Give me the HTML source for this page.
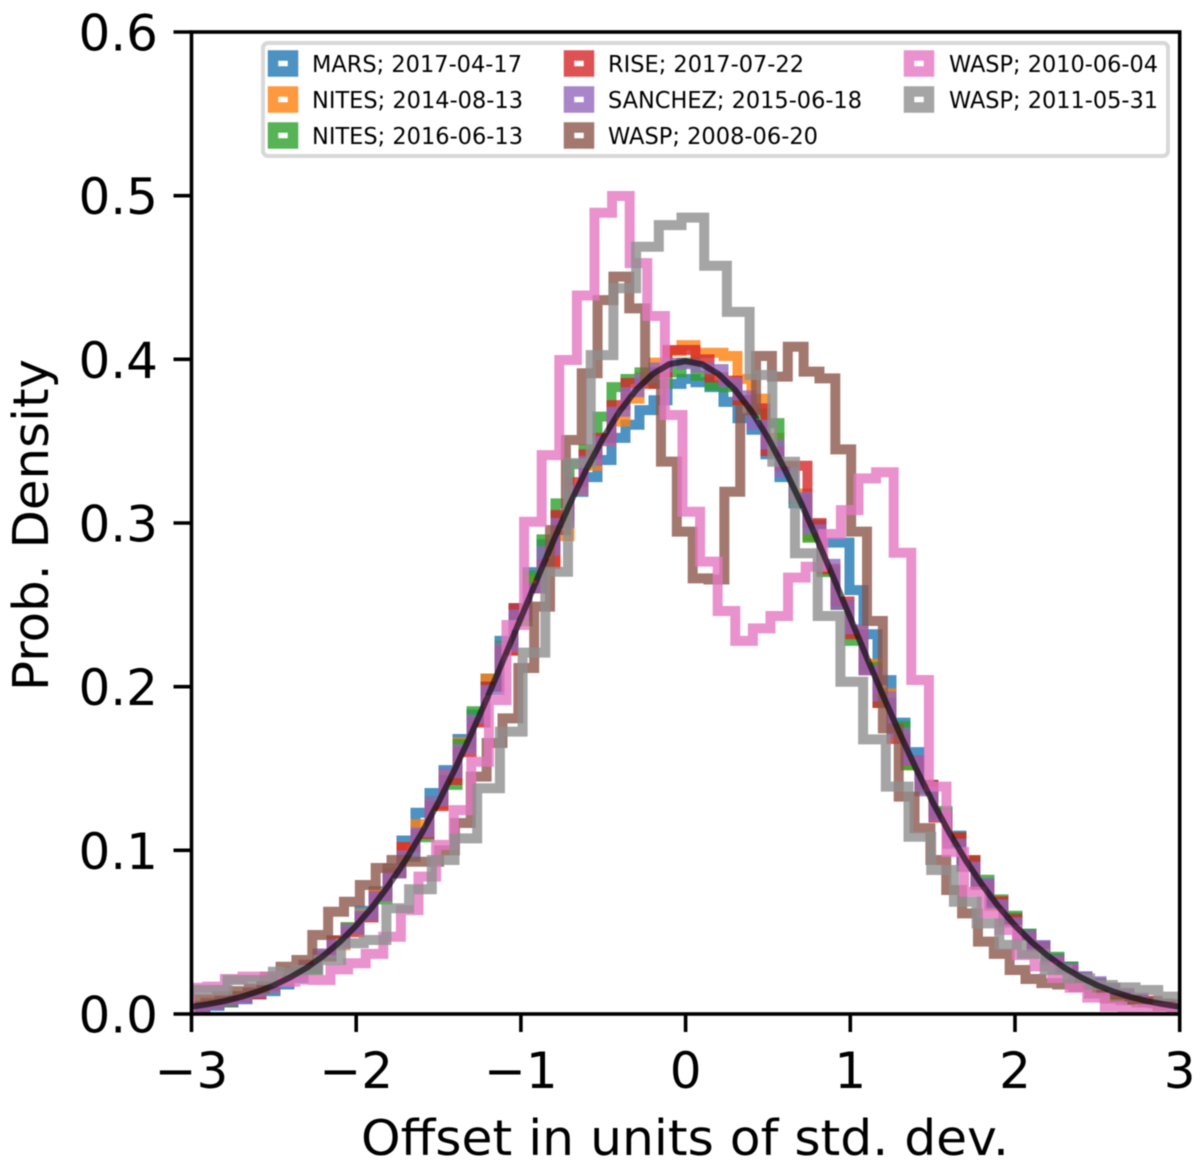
<!DOCTYPE html>
<html lang="en">
<head>
<meta charset="utf-8">
<title>Offset distribution histogram</title>
<style>
  html, body { margin: 0; padding: 0; background: #fff; }
  svg { display: block; font-family: "DejaVu Sans", "Liberation Sans", sans-serif; filter: blur(0.55px); }
</style>
</head>
<body>
<svg id="chart" xmlns="http://www.w3.org/2000/svg" width="1200" height="1169" viewBox="0 0 1200 1169">
  <defs>
    <clipPath id="plot-clip"><rect x="191.5" y="32" width="988.2" height="982"></rect></clipPath>
  </defs>
  <rect x="0" y="0" width="1200" height="1169" fill="#ffffff"></rect>
  <g id="marks" clip-path="url(#plot-clip)"></g>
  <g id="axes"></g>
  <text x="685" y="1155" font-size="49" text-anchor="middle" textLength="648" lengthAdjust="spacingAndGlyphs" fill="#000">Offset in units of std. dev.</text>
  <text transform="translate(48,525) rotate(-90)" font-size="49" text-anchor="middle" textLength="332" lengthAdjust="spacingAndGlyphs" fill="#000">Prob. Density</text>

  <g>
    <rect x="263" y="43" width="905" height="113" rx="5" ry="5" fill="#ffffff" fill-opacity="0.8" stroke="#d8d8d8" stroke-width="4"></rect>
    <g font-size="23" fill="#000">
      <g>
        <rect x="273" y="55.5" width="20" height="16" fill="none" stroke="#1f77b4" stroke-opacity="0.8" stroke-width="10.5"></rect>
        <text x="312" y="72" textLength="210" lengthAdjust="spacingAndGlyphs">MARS; 2017-04-17</text>
      </g>
      <g>
        <rect x="273" y="91.5" width="20" height="16" fill="none" stroke="#ff7f0e" stroke-opacity="0.8" stroke-width="10.5"></rect>
        <text x="312" y="108" textLength="211" lengthAdjust="spacingAndGlyphs">NITES; 2014-08-13</text>
      </g>
      <g>
        <rect x="273" y="127.5" width="20" height="16" fill="none" stroke="#2ca02c" stroke-opacity="0.8" stroke-width="10.5"></rect>
        <text x="312" y="144" textLength="211" lengthAdjust="spacingAndGlyphs">NITES; 2016-06-13</text>
      </g>
      <g>
        <rect x="569" y="55.5" width="20" height="16" fill="none" stroke="#d62728" stroke-opacity="0.8" stroke-width="10.5"></rect>
        <text x="608" y="72" textLength="196" lengthAdjust="spacingAndGlyphs">RISE; 2017-07-22</text>
      </g>
      <g>
        <rect x="569" y="91.5" width="20" height="16" fill="none" stroke="#9467bd" stroke-opacity="0.8" stroke-width="10.5"></rect>
        <text x="608" y="108" textLength="254" lengthAdjust="spacingAndGlyphs">SANCHEZ; 2015-06-18</text>
      </g>
      <g>
        <rect x="569" y="127.5" width="20" height="16" fill="none" stroke="#8c564b" stroke-opacity="0.8" stroke-width="10.5"></rect>
        <text x="608" y="144" textLength="210" lengthAdjust="spacingAndGlyphs">WASP; 2008-06-20</text>
      </g>
      <g>
        <rect x="909" y="55.5" width="20" height="16" fill="none" stroke="#e377c2" stroke-opacity="0.8" stroke-width="10.5"></rect>
        <text x="949" y="72" textLength="209" lengthAdjust="spacingAndGlyphs">WASP; 2010-06-04</text>
      </g>
      <g>
        <rect x="909" y="91.5" width="20" height="16" fill="none" stroke="#8f8f8f" stroke-opacity="0.8" stroke-width="10.5"></rect>
        <text x="949" y="108" textLength="209" lengthAdjust="spacingAndGlyphs">WASP; 2011-05-31</text>
      </g>
    </g>
  </g>
</svg>

<script>
// Chart data: histogram densities per bin.
const xTickValues = [-3, -2, -1, 0, 1, 2, 3];
const xTickLabels = ['\u22123', '\u22122', '\u22121', '0', '1', '2', '3'];
const yTickValues = [0, 0.1, 0.2, 0.3, 0.4, 0.5, 0.6];
const yTickLabels = ['0.0', '0.1', '0.2', '0.3', '0.4', '0.5', '0.6'];

const marsValues = [.004,.005,.007,.009,.012,.014,.018,.022,.028,.036,.044,.052,.063,.075,.089,.106,.123,.135,.149,.168,.183,.205,.228,.248,.27,.287,.304,.319,.328,.3385,.352,.36,.369,.375,.385,.388,.386,.383,.374,.364,.357,.342,.328,.312,.299,.288,.288,.259,.232,.204,.178,.16,.14,.123,.109,.093,.08,.068,.059,.049,.042,.034,.029,.023,.019,.015,.012,.0095,.0075,.006,.0045];
const nites2014Values = [.005,.007,.008,.011,.013,.016,.021,.024,.03,.037,.042,.053,.061,.074,.088,.102,.116,.128,.146,.166,.179,.205,.222,.243,.265,.276,.292,.32,.335,.35,.362,.376,.389,.398,.405,.4087,.404,.404,.402,.388,.376,.352,.335,.318,.292,.271,.25,.234,.214,.196,.172,.152,.137,.122,.104,.09,.079,.066,.056,.048,.041,.033,.027,.022,.018,.015,.012,.009,.007,.006,.005];
const nites2016Values = [.005,.006,.007,.011,.013,.017,.021,.026,.027,.036,.045,.053,.06,.07,.086,.096,.108,.13,.14,.165,.185,.2,.225,.24,.268,.29,.312,.336,.345,.365,.383,.388,.392,.385,.392,.398,.39,.384,.383,.375,.367,.361,.334,.315,.291,.27,.25,.228,.212,.19,.176,.152,.138,.124,.108,.094,.082,.07,.06,.049,.041,.035,.029,.022,.019,.016,.012,.009,.007,.005,.004];
const riseValues = [.004,.006,.008,.01,.012,.017,.02,.026,.03,.035,.045,.05,.059,.072,.086,.102,.11,.127,.143,.16,.178,.2,.222,.248,.26,.275,.305,.325,.342,.352,.372,.3855,.385,.392,.4057,.4057,.4,.389,.387,.375,.37,.344,.335,.335,.3,.272,.252,.232,.21,.19,.168,.155,.14,.12,.108,.094,.079,.069,.058,.048,.041,.033,.027,.022,.018,.014,.012,.009,.008,.005,.004];
const sanchezValues = [.004,.006,.008,.0095,.013,.016,.021,.024,.03,.037,.043,.052,.06,.072,.086,.097,.111,.13,.147,.162,.18,.198,.224,.244,.26,.283,.3,.32,.338,.35,.368,.38,.388,.395,.398,.397,.395,.394,.386,.378,.36,.348,.331,.316,.296,.275,.25,.235,.21,.194,.172,.155,.136,.121,.104,.09,.08,.067,.056,.048,.042,.033,.028,.023,.02,.016,.013,.01,.007,.006,.004];
const wasp2008Values = [.009,.009,.011,.014,.0155,.0228,.0289,.033,.0483,.0625,.0686,.0788,.0892,.0941,.093,.093,.1,.1167,.145,.1656,.1806,.2114,.2489,.2957,.3507,.3915,.4362,.4505,.4311,.3874,.3375,.2947,.2662,.2655,.3191,.369,.402,.3894,.4077,.3925,.3884,.345,.2947,.2401,.1745,.1328,.1136,.0941,.0758,.0615,.0442,.0367,.0269,.0214,.0189,.018,.0165,.0125,.0095,.0085,.007,.0065,.006];
const wasp2010Values = [.016,.0167,.0214,.0228,.0228,.0197,.021,.0208,.0273,.031,.0367,.0472,.0635,.0839,.1033,.1246,.1541,.1918,.2377,.3008,.3415,.3996,.439,.4896,.4998,.4588,.4265,.366,.3069,.2764,.2462,.228,.2356,.2432,.2666,.2733,.2933,.3079,.3273,.331,.2818,.2041,.1389,.099,.0747,.0615,.0513,.036,.029,.022,.016,.01,.0045,.0025,.003,.004,.003];
const wasp2011Values = [.0147,.0147,.0208,.0208,.0258,.0269,.033,.0432,.0452,.0646,.0762,.0941,.1073,.1379,.1725,.2208,.2702,.3366,.4026,.4434,.4688,.482,.4866,.4572,.429,.3904,.3374,.2815,.2432,.203,.1678,.1389,.1083,.088,.0686,.0554,.0422,.0367,.0269,.0218,.0177,.0163,.0147,.0106];

const unitNormalValues = [.0044,.0060,.0079,.0104,.0136,.0175,.0224,.0283,.0355,.0440,.0540,.0656,.0790,.0940,.1109,.1295,.1497,.1714,.1942,.2179,.2420,.2661,.2897,.3123,.3332,.3521,.3683,.3814,.3910,.3970,.3989,.3970,.3910,.3814,.3683,.3521,.3332,.3123,.2897,.2661,.2420,.2179,.1942,.1714,.1497,.1295,.1109,.0940,.0790,.0656,.0540,.0440,.0355,.0283,.0224,.0175,.0136,.0104,.0079,.0060,.0044];

const seriesList = [
  { slug: 'mars-2017', values: marsValues, binStart: -3, binWidth: 0.085, color: '#1f77b4' },
  { slug: 'nites-2014', values: nites2014Values, binStart: -3, binWidth: 0.085, color: '#ff7f0e' },
  { slug: 'nites-2016', values: nites2016Values, binStart: -3, binWidth: 0.085, color: '#2ca02c' },
  { slug: 'rise-2017', values: riseValues, binStart: -3, binWidth: 0.085, color: '#d62728' },
  { slug: 'sanchez-2015', values: sanchezValues, binStart: -3, binWidth: 0.085, color: '#9467bd' },
  { slug: 'wasp-2008', values: wasp2008Values, binStart: -3.0364, binWidth: 0.09623, color: '#8c564b' },
  { slug: 'wasp-2010', values: wasp2010Values, binStart: -3.011, binWidth: 0.10686, color: '#e377c2' },
  { slug: 'wasp-2011', values: wasp2011Values, binStart: -3.0571, binWidth: 0.13783, color: '#8f8f8f' }
];

const NS = 'http://www.w3.org/2000/svg';
const xScale = function (v) { return 685.6 + v * 164.7; };
const yScale = function (v) { return 1014 - v * 1636.67; };

const marks = document.getElementById('marks');
const axes = document.getElementById('axes');

seriesList.forEach(function (s) {
  let d = 'M' + xScale(s.binStart).toFixed(2) + ' ' + yScale(0).toFixed(2);
  s.values.forEach(function (v, i) {
    const x0 = xScale(s.binStart + i * s.binWidth).toFixed(2);
    const x1 = xScale(s.binStart + (i + 1) * s.binWidth).toFixed(2);
    const y = yScale(v).toFixed(2);
    d += 'L' + x0 + ' ' + y + 'L' + x1 + ' ' + y;
  });
  const endX = xScale(s.binStart + s.values.length * s.binWidth).toFixed(2);
  d += 'L' + endX + ' ' + yScale(0).toFixed(2);
  const path = document.createElementNS(NS, 'path');
  path.setAttribute('d', d);
  path.setAttribute('fill', 'none');
  path.setAttribute('stroke', s.color);
  path.setAttribute('stroke-opacity', '0.8');
  path.setAttribute('stroke-width', '10');
  path.setAttribute('stroke-linejoin', 'miter');
  
  
  marks.appendChild(path);
});

const curve = document.createElementNS(NS, 'polyline');
curve.setAttribute('points', unitNormalValues.map(function (v, i) {
  return xScale(-3 + i * 0.1).toFixed(2) + ',' + yScale(v).toFixed(2);
}).join(' '));
curve.setAttribute('fill', 'none');
curve.setAttribute('stroke', '#000000');
curve.setAttribute('stroke-opacity', '0.62');
curve.setAttribute('stroke-width', '6');
curve.setAttribute('stroke-linejoin', 'round');


marks.appendChild(curve);

const frame = document.createElementNS(NS, 'rect');
frame.setAttribute('x', xScale(-3));
frame.setAttribute('y', yScale(0.6));
frame.setAttribute('width', xScale(3) - xScale(-3));
frame.setAttribute('height', yScale(0) - yScale(0.6));
frame.setAttribute('fill', 'none');
frame.setAttribute('stroke', '#000');
frame.setAttribute('stroke-width', '3.6');


axes.appendChild(frame);

xTickValues.forEach(function (v, i) {
  const tick = document.createElementNS(NS, 'line');
  tick.setAttribute('x1', xScale(v));
  tick.setAttribute('x2', xScale(v));
  tick.setAttribute('y1', yScale(0));
  tick.setAttribute('y2', yScale(0) + 18);
  tick.setAttribute('stroke', '#000');
  tick.setAttribute('stroke-width', '3.6');
  
  
  axes.appendChild(tick);
  const label = document.createElementNS(NS, 'text');
  label.setAttribute('x', xScale(v));
  label.setAttribute('y', 1088);
  label.setAttribute('font-size', '50');
  label.setAttribute('text-anchor', 'middle');
  label.setAttribute('fill', '#000');
  
  
  label.textContent = xTickLabels[i];
  axes.appendChild(label);
});

yTickValues.forEach(function (v, i) {
  const tick = document.createElementNS(NS, 'line');
  tick.setAttribute('x1', xScale(-3) - 18);
  tick.setAttribute('x2', xScale(-3));
  tick.setAttribute('y1', yScale(v));
  tick.setAttribute('y2', yScale(v));
  tick.setAttribute('stroke', '#000');
  tick.setAttribute('stroke-width', '3.6');
  
  
  axes.appendChild(tick);
  const label = document.createElementNS(NS, 'text');
  label.setAttribute('x', 158);
  label.setAttribute('y', yScale(v) + 18.5);
  label.setAttribute('font-size', '50');
  label.setAttribute('text-anchor', 'end');
  label.setAttribute('fill', '#000');
  
  
  label.textContent = yTickLabels[i];
  axes.appendChild(label);
});
</script>
</body>
</html>
